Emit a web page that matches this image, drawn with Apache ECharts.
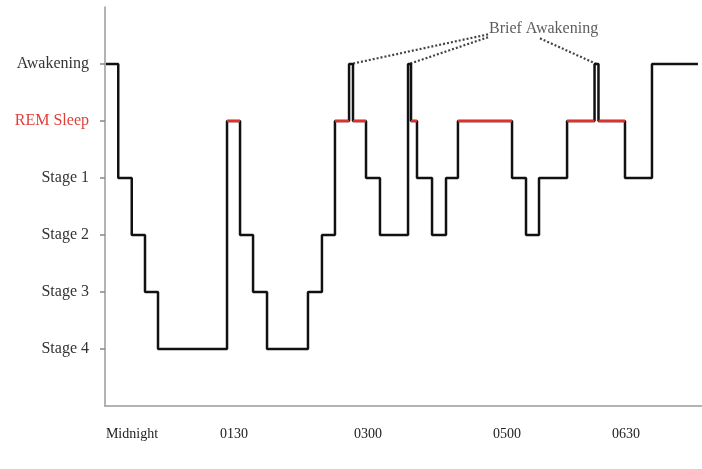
<!DOCTYPE html>
<html>
<head>
<meta charset="utf-8">
<script src="https://cdn.jsdelivr.net/npm/echarts@6/dist/echarts.min.js"></script>
<style>
html,body{margin:0;padding:0;background:#fff;}
#chart{width:702px;height:469px;}
</style>
</head>
<body>
<div id="chart"></div>
<script>
// Sleep stage levels (bottom to top)
const stageNames = ['Stage 4', 'Stage 3', 'Stage 2', 'Stage 1', 'REM Sleep', 'Awakening'];

// Time (minutes from start of axis) at which each stage begins; last entry = end of record
const hypnoTimes = [0.8, 11.1, 22.4, 33.5, 44.4, 102.2, 113.1, 124.0, 135.7, 170.0, 181.7,
  192.6, 204.4, 207.7, 218.6, 230.3, 253.8, 256.3, 261.3, 273.9, 285.6, 295.6, 340.9,
  352.6, 363.5, 387.0, 410.0, 413.3, 435.5, 458.1, 496.6];
const hypnoStages = ['Awakening', 'Stage 1', 'Stage 2', 'Stage 3', 'Stage 4', 'REM Sleep',
  'Stage 2', 'Stage 3', 'Stage 4', 'Stage 3', 'Stage 2', 'REM Sleep', 'Awakening',
  'REM Sleep', 'Stage 1', 'Stage 2', 'Awakening', 'REM Sleep', 'Stage 1', 'Stage 2',
  'Stage 1', 'REM Sleep', 'Stage 1', 'Stage 2', 'Stage 1', 'REM Sleep', 'Awakening',
  'REM Sleep', 'Stage 1', 'Awakening'];

// X-axis tick labels and where they sit on the time axis
const xLabels = ['Midnight', '0130', '0300', '0500', '0630'];
const xLabelAt = [22.6, 108, 220.3, 336.7, 436.3];

// Annotation
const annotationText = 'Brief Awakening';
const annotationAnchor = [321.6, 6.61];
const leaderStarts = [[320.8, 6.52], [320.8, 6.47], [364.3, 6.45]];
const leaderEnds = [[206.0, 6], [254.6, 6], [411.6, 6]];

const level = name => stageNames.indexOf(name) + 1;

const stepData = hypnoStages.map((s, i) => [hypnoTimes[i], level(s)]);
stepData.push([hypnoTimes[hypnoTimes.length - 1], level(hypnoStages[hypnoStages.length - 1])]);

const remData = [];
hypnoStages.forEach((s, i) => {
  if (s === 'REM Sleep') {
    remData.push([hypnoTimes[i], level(s)], [hypnoTimes[i + 1], level(s)], null);
  }
});

const leaderSeries = leaderStarts.map((st, i) => ({
  type: 'line',
  data: [st, leaderEnds[i]],
  symbol: 'none',
  silent: true,
  lineStyle: { color: '#444', width: 2.2, type: [2, 2] },
  z: 1
}));

const serif = 'Liberation Serif';
const chart = echarts.init(document.getElementById('chart'), null, { renderer: 'canvas' });
chart.setOption({
  animation: false,
  backgroundColor: '#fff',
  grid: { left: 105, right: 0, top: 7, bottom: 63, containLabel: false },
  xAxis: {
    type: 'value',
    min: 0,
    max: 500,
    splitLine: { show: false },
    axisLine: { show: true, lineStyle: { color: '#9a9a9a', width: 1.5 } },
    axisTick: { show: false },
    axisLabel: {
      customValues: xLabelAt,
      formatter: v => xLabels[xLabelAt.indexOf(v)] || '',
      fontFamily: serif,
      fontSize: 14,
      color: '#222',
      margin: 21
    }
  },
  yAxis: {
    type: 'value',
    min: 0,
    max: 7,
    splitLine: { show: false },
    axisLine: { show: true, lineStyle: { color: '#9a9a9a', width: 1.5 } },
    axisTick: { show: true, length: 5, customValues: [1, 2, 3, 4, 5, 6], lineStyle: { color: '#888', width: 1.5 } },
    axisLabel: {
      customValues: [1, 2, 3, 4, 5, 6],
      formatter: v => stageNames[v - 1] || '',
      color: v => (stageNames[v - 1] === 'REM Sleep' ? '#e0403a' : '#333'),
      fontFamily: serif,
      fontSize: 16,
      margin: 16
    }
  },
  series: [
    ...leaderSeries,
    {
      type: 'line',
      step: 'end',
      data: stepData,
      symbol: 'none',
      lineStyle: { color: '#111', width: 2.5 },
      z: 3
    },
    {
      type: 'line',
      data: remData,
      connectNulls: false,
      symbol: 'none',
      lineStyle: { color: '#e0302a', width: 2.6 },
      z: 4
    },
    {
      type: 'scatter',
      data: [annotationAnchor],
      symbolSize: 0,
      silent: true,
      label: {
        show: true,
        position: 'right',
        distance: 0,
        formatter: annotationText,
        fontFamily: serif,
        fontSize: 16,
        color: '#333'
      },
      z: 5
    }
  ]
});
</script>
</body>
</html>
